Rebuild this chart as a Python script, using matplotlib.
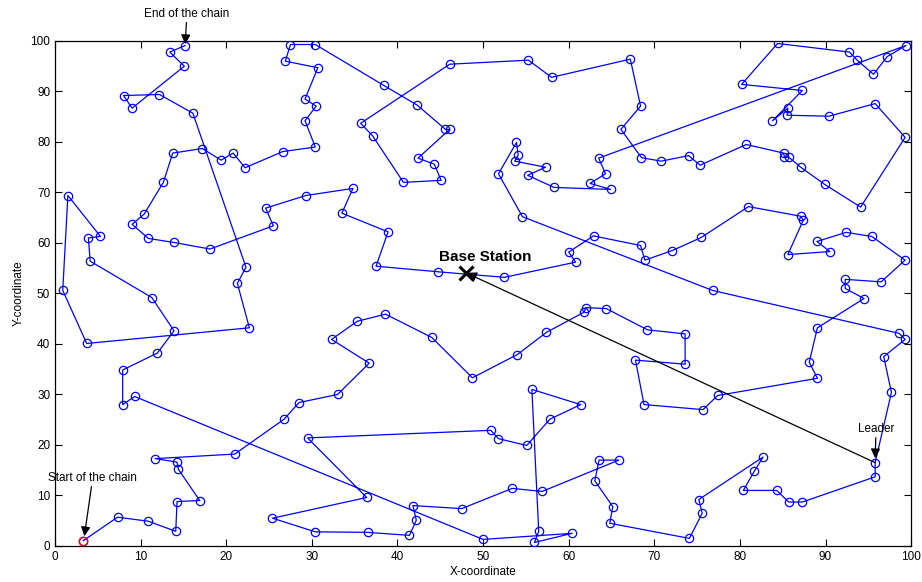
import matplotlib
matplotlib.use("Agg")
import matplotlib.pyplot as plt

plt.rcParams['font.family'] = ['Liberation Sans', 'DejaVu Sans']

# Chain node coordinates in chain order (start -> end)
chain_x = [3.3, 7.3, 10.9, 14.1, 14.25, 16.9, 14.4, 14.25, 11.7, 21.0,
           26.75, 28.5, 33.0, 36.7, 32.3, 35.3, 38.6, 44.0, 48.75, 54.0,
           57.4, 61.8, 62.0, 64.4, 69.2, 73.6, 73.6, 67.8, 68.8, 75.7,
           77.4, 89.05, 88.1, 89.05, 94.5, 92.3, 92.3, 96.5, 99.3, 95.4,
           92.4, 89.0, 90.5, 85.6, 87.4, 87.1, 81.0, 75.5, 72.1, 68.9,
           68.4, 62.9, 60.0, 60.8, 52.5, 44.7, 37.5, 38.9, 33.5, 34.8,
           29.3, 24.6, 25.5, 18.1, 13.9, 10.9, 9.0, 10.4, 12.65, 13.75,
           17.2, 19.4, 20.8, 22.2, 26.6, 30.4, 29.2, 30.5, 29.2, 30.7,
           26.9, 27.5, 30.4, 38.4, 42.3, 45.6, 46.1, 42.4, 44.3, 45.1,
           40.7, 37.1, 35.7, 46.1, 55.3, 58.0, 67.2, 68.4, 66.1, 68.5,
           70.8, 74.0, 75.35, 80.75, 85.1, 85.2, 85.7, 87.1, 89.9, 94.1,
           99.3, 95.8, 90.4, 85.5, 85.6, 83.8, 87.3, 80.2, 84.4, 92.8,
           93.7, 95.6, 97.2, 99.4, 63.5, 64.3, 62.5, 64.9, 58.3, 55.2,
           57.3, 53.7, 54.1, 53.9, 51.8, 54.6, 76.8, 98.6, 99.3, 96.8,
           97.7, 95.8, 95.8, 87.3, 85.7, 84.3, 80.4, 81.7, 82.7, 75.2,
           75.6, 74.1, 64.8, 65.15, 63.05, 63.55, 65.85, 56.9, 53.4, 47.5,
           41.8, 42.2, 41.4, 36.5, 30.4, 25.4, 36.4, 29.5, 50.9, 51.8,
           55.1, 57.8, 61.4, 55.7, 56.5, 56.0, 60.4, 50.0, 9.3, 7.9,
           7.9, 11.95, 13.9, 11.3, 4.1, 3.9, 5.3, 1.5, 0.9, 3.7,
           22.7, 21.3, 22.3, 16.1, 12.2, 8.0, 9.0, 15.1, 13.4, 15.2]
chain_y = [1.05, 5.7, 4.9, 2.9, 8.8, 9.0, 15.2, 16.6, 17.3, 18.2,
           25.1, 28.4, 30.0, 36.2, 40.9, 44.5, 45.9, 41.3, 33.3, 37.9,
           42.3, 46.3, 47.2, 47.0, 42.8, 42.0, 36.0, 36.8, 28.0, 27.0,
           29.8, 33.2, 36.4, 43.2, 49.0, 51.0, 52.8, 52.3, 56.6, 61.3,
           62.1, 60.3, 58.3, 57.7, 64.5, 65.3, 67.2, 61.1, 58.5, 56.6,
           59.5, 61.4, 58.2, 56.2, 53.2, 54.3, 55.4, 62.2, 65.9, 70.8,
           69.4, 66.9, 63.4, 58.8, 60.1, 60.9, 63.7, 65.7, 72.0, 77.8,
           78.7, 76.4, 77.8, 74.9, 78.1, 79.0, 84.2, 87.1, 88.5, 94.7,
           96.0, 99.3, 99.3, 91.2, 87.3, 82.5, 82.5, 76.8, 75.6, 72.4,
           72.0, 81.2, 83.7, 95.4, 96.2, 92.8, 96.4, 87.1, 82.5, 76.9,
           76.2, 77.3, 75.4, 79.5, 77.8, 77.0, 77.0, 75.0, 71.6, 67.1,
           80.9, 87.6, 85.1, 85.3, 86.7, 84.2, 90.2, 91.4, 99.5, 97.8,
           96.2, 93.4, 96.9, 99.1, 76.8, 73.7, 71.8, 70.6, 71.0, 73.4,
           75.0, 76.2, 77.4, 79.9, 73.7, 65.2, 50.6, 42.1, 40.9, 37.5,
           30.4, 16.5, 13.7, 8.7, 8.7, 11.0, 11.0, 14.85, 17.6, 9.2,
           6.5, 1.5, 4.5, 7.8, 12.9, 17.0, 17.0, 10.8, 11.4, 7.4,
           8.0, 5.1, 2.1, 2.7, 2.8, 5.5, 9.6, 21.4, 22.9, 21.25,
           19.9, 25.1, 28.0, 31.0, 2.9, 0.7, 2.5, 1.3, 29.6, 28.0,
           34.85, 38.2, 42.6, 49.2, 56.4, 61.0, 61.3, 69.4, 50.6, 40.1,
           43.2, 52.0, 55.2, 85.7, 89.4, 89.2, 86.7, 95.0, 97.8, 99.1]

leader_index = 141
base_station = (48.0, 54.1)
ticks = [0, 10, 20, 30, 40, 50, 60, 70, 80, 90, 100]

fig = plt.figure(figsize=(9.22, 5.82), dpi=100)
ax = fig.add_axes([0.0597, 0.0619, 0.9285, 0.8677])

ax.plot(chain_x, chain_y, '-o', color='#0000ff', lw=0.9, ms=6,
        mfc='none', mec='#0000ff', mew=0.9, zorder=3)
ax.plot(chain_x[0], chain_y[0], 'o', ms=6, mfc='none', mec='#ff0000',
        mew=1.0, zorder=4)

lx, ly = chain_x[leader_index], chain_y[leader_index]
ax.annotate('', xy=base_station, xytext=(lx, ly),
            arrowprops=dict(arrowstyle='-|>', color='k', lw=0.9,
                            mutation_scale=16, shrinkA=0, shrinkB=0),
            zorder=5)
ax.plot(*base_station, marker='x', color='k', ms=10, mew=2.2, zorder=6)
ax.text(44.9, 55.8, 'Base Station', fontsize=11, fontweight='bold',
        ha='left', va='bottom', zorder=6)

arrow = dict(arrowstyle='-|>', color='k', lw=0.9, mutation_scale=14,
             shrinkA=0, shrinkB=1)
ax.annotate('End of the chain', xy=(chain_x[-1], chain_y[-1]),
            xytext=(15.4, 104.2), fontsize=8.5, ha='center', va='bottom',
            arrowprops=arrow, annotation_clip=False)
ax.annotate('Start of the chain', xy=(chain_x[0] + 0.1, chain_y[0] + 0.6),
            xytext=(4.4, 12.3), fontsize=8.5, ha='center', va='bottom',
            arrowprops=arrow)
ax.annotate('Leader', xy=(lx, ly + 0.6), xytext=(95.9, 22.0),
            fontsize=8.5, ha='center', va='bottom', arrowprops=arrow)

ax.set_xlim(0, 100)
ax.set_ylim(0, 100)
ax.set_xticks(ticks)
ax.set_yticks(ticks)
ax.tick_params(direction='in', top=True, right=True, length=5,
               labelsize=8.5, width=0.8)
for s in ax.spines.values():
    s.set_linewidth(0.9)
ax.set_xlabel('X-coordinate', fontsize=8.5, labelpad=2)
ax.set_ylabel('Y-coordinate', fontsize=8.5, labelpad=4)

fig.savefig('out.png', dpi=100)
